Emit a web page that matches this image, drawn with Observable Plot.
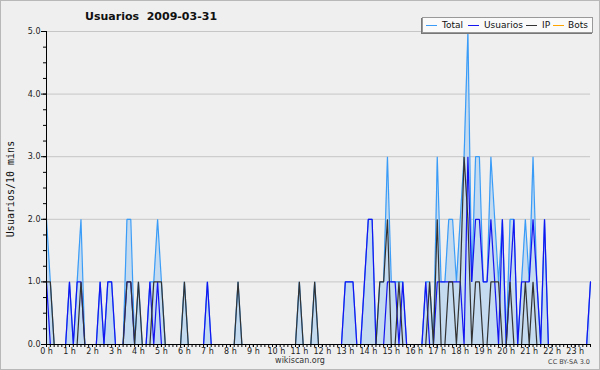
<!DOCTYPE html>
<html>
<head>
<meta charset="utf-8">
<script src="https://cdn.jsdelivr.net/npm/d3@7"></script>
<script src="https://cdn.jsdelivr.net/npm/@observablehq/plot@0.6"></script>
<style>
  html, body { margin: 0; padding: 0; background: #efefef; }
  #wrap { position: relative; width: 600px; height: 370px; background: #efefef; overflow: hidden; }
  #chart { position: absolute; left: 0; top: 0; }
  #frame { position: absolute; left: 0; top: 0; width: 598px; height: 368px; border: 1px solid #b8b8b8; pointer-events: none; }
  .title { position: absolute; left: 85px; top: 10px; font: bold 11px "DejaVu Sans", sans-serif; white-space: pre; color: #111; line-height: 13px; }
  .ylab { position: absolute; left: 10px; top: 189px; transform: translate(-50%, -50%) rotate(-90deg); font: 10px "DejaVu Sans Mono", monospace; color: #111; white-space: nowrap; }
  .legend { position: absolute; left: 422px; top: 17px; width: 169px; height: 14px; background: #fafafa; border: 1px solid #999; box-shadow: -1px 1px 0 #777; }
  .legend .ln { position: absolute; top: 7px; width: 11px; height: 0; border-top: 1px solid; }
  .legend .tx { position: absolute; top: 1px; font: 9px "DejaVu Sans", sans-serif; color: #111; line-height: 12px; white-space: nowrap; }
  .foot { position: absolute; left: 300px; top: 356px; transform: translateX(-50%); font: 8px "DejaVu Sans", sans-serif; color: #333; }
  .lic { position: absolute; right: 10px; top: 358px; font: 6.5px "DejaVu Sans", sans-serif; color: #444; }
</style>
</head>
<body>
<div id="wrap">
  <div id="chart"></div>
  <div class="title">Usuarios  2009-03-31</div>
  <div class="ylab">Usuarios/10 mins</div>
  <div class="legend" id="legend"></div>
  <div class="foot">wikiscan.org</div>
  <div class="lic">CC BY-SA 3.0</div>
  <div id="frame"></div>
</div>
<script>
// 10-minute slots from 00:00 to 23:40 (index 0..142)
const total = [
  2,1,0,0,0,0,1,0,1,2,
  0,0,0,0,1,0,1,1,0,0,
  0,2,2,0,1,0,0,1,1,2,
  1,0,0,0,0,0,1,0,0,0,
  0,0,1,0,0,0,0,0,0,0,
  1,0,0,0,0,0,0,0,0,0,
  0,0,0,0,0,0,1,0,0,0,
  1,0,0,0,0,0,0,0,1,1,
  1,0,0,1,2,2,0,1,1,3,
  1,1,1,1,0,0,0,0,0,1,
  1,0,3,1,1,2,2,1,2,3,
  5,1,3,3,1,1,3,2,1,2,
  0,2,2,0,1,2,1,3,1,0,
  2,0,0,0,0,0,0,0,0,0,
  0,0,1
];
const usuarios = [
  1,0,0,0,0,0,1,0,1,1,
  0,0,0,0,1,0,1,1,0,0,
  0,1,1,0,0,0,0,1,0,1,
  0,0,0,0,0,0,0,0,0,0,
  0,0,1,0,0,0,0,0,0,0,
  0,0,0,0,0,0,0,0,0,0,
  0,0,0,0,0,0,0,0,0,0,
  0,0,0,0,0,0,0,0,1,1,
  1,0,0,1,2,2,0,0,0,1,
  1,1,0,1,0,0,0,0,0,1,
  0,0,1,1,1,1,1,1,1,0,
  3,1,2,2,1,1,2,1,0,2,
  0,1,2,0,1,1,1,2,1,0,
  2,0,0,0,0,0,0,0,0,0,
  0,0,1
];
const ip = [
  1,1,0,0,0,0,0,0,0,1,
  0,0,0,0,0,0,0,0,0,0,
  0,1,1,0,1,0,0,0,1,1,
  1,0,0,0,0,0,1,0,0,0,
  0,0,0,0,0,0,0,0,0,0,
  1,0,0,0,0,0,0,0,0,0,
  0,0,0,0,0,0,1,0,0,0,
  1,0,0,0,0,0,0,0,0,0,
  0,0,0,0,0,0,0,1,1,2,
  0,0,1,0,0,0,0,0,0,0,
  1,0,2,0,0,1,1,0,1,3,
  2,0,1,1,0,0,1,1,1,0,
  0,1,0,0,0,1,0,1,0,0,
  0,0,0,0,0,0,0,0,0,0,
  0,0,0
];
const bots = [
  0,0,0,0,0,0,0,0,0,0, 0,0,0,0,0,0,0,0,0,0, 0,0,0,0,0,0,0,0,0,0,
  0,0,0,0,0,0,0,0,0,0, 0,0,0,0,0,0,0,0,0,0, 0,0,0,0,0,0,0,0,0,0,
  0,0,0,0,0,0,0,0,0,0, 0,0,0,0,0,0,0,0,0,0, 0,0,0,0,0,0,0,0,0,0,
  0,0,0,0,0,0,0,0,0,0, 0,0,0,0,0,0,0,0,0,0, 0,0,0,0,0,0,0,0,0,0,
  0,0,0,0,0,0,0,0,0,0, 0,0,0,0,0,0,0,0,0,0, 0,0,0
];
const hourLabels = ["0 h","1 h","2 h","3 h","4 h","5 h","6 h","7 h","8 h","9 h","10 h","11 h",
  "12 h","13 h","14 h","15 h","16 h","17 h","18 h","19 h","20 h","21 h","22 h","23 h"];
const yLabels = ["0.0","1.0","2.0","3.0","4.0","5.0"];
const seriesNames = ["Total","Usuarios","IP","Bots"];
const seriesColors = ["#3a9cf7","#1414f0","#333333","#ffa500"];

const hourTicks = hourLabels.map((_, h) => h * 6);
const slotTicks = d3.range(total.length);
const minorY = d3.range(0, 5.001, 0.25);

const lineOpts = (c) => ({stroke: c, strokeWidth: 1.2, strokeLinejoin: "miter", curve: "linear"});

const chart = Plot.plot({
  width: 600,
  height: 370,
  marginLeft: 46,
  marginRight: 10,
  marginTop: 31,
  marginBottom: 26,
  style: {background: "transparent", fontFamily: "DejaVu Sans, sans-serif", fontSize: "8px", color: "#111"},
  x: {type: "linear", domain: [0, total.length - 1]},
  y: {domain: [0, 5]},
  marks: [
    Plot.gridY({ticks: [1, 2, 3, 4, 5], stroke: "#c6c6c6", strokeOpacity: 1}),
    Plot.areaY(total, {fill: "#c4dbf0", curve: "linear"}),
    Plot.lineY(bots, lineOpts(seriesColors[3])),
    Plot.lineY(total, lineOpts(seriesColors[0])),
    Plot.lineY(usuarios, lineOpts(seriesColors[1])),
    Plot.lineY(ip, lineOpts(seriesColors[2])),
    Plot.ruleX([0], {stroke: "#000"}),
    Plot.ruleY([0], {stroke: "#000"}),
    Plot.axisY({ticks: minorY, tickSize: 3, tickFormat: () => "", label: null, stroke: "#000"}),
    Plot.axisY({ticks: [0, 1, 2, 3, 4, 5], tickSize: 5, tickPadding: 1, tickFormat: (d) => yLabels[d], label: null, stroke: "#000", fill: "#222"}),
    Plot.axisX({ticks: slotTicks, tickSize: 3, tickFormat: () => "", label: null, stroke: "#000"}),
    Plot.axisX({ticks: hourTicks, tickSize: 3, tickPadding: 1, tickFormat: (d) => hourLabels[d / 6], label: null, stroke: "#000", fill: "#222"})
  ]
});
document.getElementById("chart").appendChild(chart);

// legend
const legend = document.getElementById("legend");
const lineLeft = [3, 45, 103, 130];
const textLeft = [19, 61, 119, 145];
seriesNames.forEach((name, k) => {
  const ln = document.createElement("div");
  ln.className = "ln";
  ln.style.left = lineLeft[k] + "px";
  ln.style.borderTopColor = seriesColors[k];
  legend.appendChild(ln);
  const tx = document.createElement("div");
  tx.className = "tx";
  tx.style.left = textLeft[k] + "px";
  tx.textContent = name;
  legend.appendChild(tx);
});
</script>
</body>
</html>
